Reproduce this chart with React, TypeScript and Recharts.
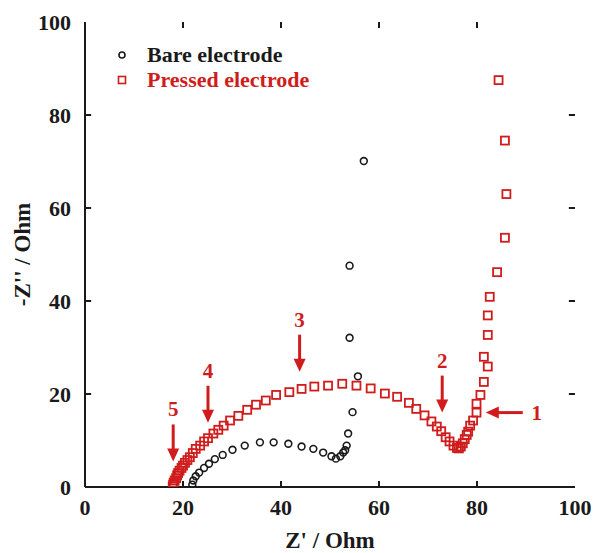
import { ScatterChart, Scatter, XAxis, YAxis, Legend, ReferenceLine } from "recharts";

// Nyquist plots, Z' (real) vs -Z'' (imaginary), both in Ohm.
const bareZr = [
  21.9, 22.1, 22.6, 23.3, 24.3, 25.3, 26.5, 28.1, 30.1, 32.6, 35.7, 38.5, 41.5, 44.2,
  46.6, 48.6, 50.3, 51.2, 52.1, 52.7, 53.1, 53.4, 53.7, 54.6, 55.7, 54.0, 54.0, 56.9,
];
const bareZi = [
  0.5, 1.4, 2.3, 3.1, 4.1, 5.0, 6.0, 6.9, 8.0, 8.9, 9.6, 9.6, 9.3, 8.7,
  8.2, 7.4, 6.6, 6.1, 6.6, 7.4, 7.9, 8.9, 11.5, 16.1, 23.8, 32.1, 47.6, 70.1,
];

const pressedZr = [
  17.9, 18.0, 18.1, 18.3, 18.6, 18.8, 19.0, 19.3, 19.7, 20.0, 20.4, 20.9, 21.4, 22.0,
  22.6, 23.5, 24.3, 25.1, 26.2, 27.2, 28.3, 29.6, 31.3, 33.1, 34.9, 36.9, 39.0, 41.7,
  44.2, 46.8, 49.6, 52.5, 55.4, 58.3, 61.2, 63.7, 66.1, 67.6, 69.3, 70.7, 71.8, 72.7,
  73.6, 74.4, 75.2, 75.9, 76.3, 76.7, 77.1, 77.5, 77.9, 78.2, 78.6, 79.2, 79.9, 79.9,
  80.7, 81.4, 82.2, 81.4, 82.2, 82.2, 82.6, 84.1, 85.7, 86.0, 85.7, 84.4,
];
const pressedZi = [
  0.1, 0.5, 0.9, 1.4, 1.9, 2.5, 3.0, 3.5, 4.1, 4.6, 5.2, 5.8, 6.4, 7.3,
  8.2, 8.9, 9.8, 10.5, 11.5, 12.3, 13.2, 14.3, 15.3, 16.6, 17.7, 18.6, 19.8, 20.4,
  21.1, 21.6, 21.8, 22.2, 21.8, 21.2, 20.1, 19.4, 18.1, 16.8, 15.4, 14.1, 13.0, 12.0,
  10.7, 9.8, 8.9, 8.4, 8.3, 8.7, 9.4, 10.3, 11.2, 11.9, 13.2, 14.3, 16.0, 17.9,
  19.8, 22.6, 25.9, 28.0, 32.7, 36.9, 40.9, 46.2, 53.6, 63.0, 74.5, 87.5,
];

// numbered arrows pointing at frequencies on the pressed curve (tip position)
const markerLabels = ["1", "2", "3", "4", "5"];
const markerZr = [81.8, 72.9, 43.8, 25.1, 18.0];
const markerZi = [16.0, 16.0, 24.8, 13.8, 5.5];
const markerDir = ["left", "down", "down", "down", "down"];

const axisTicks = [0, 20, 40, 60, 80, 100];
const innerTicks = [20, 40, 60, 80];

const RED = "#d01c1c";
const INK = "#1a1a1a";
const FONT = '"Liberation Serif", "Times New Roman", serif';
// inward tick length, in axis units (about 6px on either axis)
const TICK_X = 1.25;
const TICK_Y = 1.3;

const toPoints = (zr: number[], zi: number[]) => zr.map((x, i) => ({ x, y: zi[i] }));

const bare = toPoints(bareZr, bareZi);
const pressed = toPoints(pressedZr, pressedZi);
const markers = markerLabels.map((label, i) => ({
  x: markerZr[i],
  y: markerZi[i],
  label,
  dir: markerDir[i],
}));

// short tick segments pointing into the frame on all four sides
const frameTicks = innerTicks.flatMap((v) => [
  [{ x: v, y: 0 }, { x: v, y: TICK_Y }],
  [{ x: v, y: 100 }, { x: v, y: 100 - TICK_Y }],
  [{ x: 0, y: v }, { x: TICK_X, y: v }],
  [{ x: 100, y: v }, { x: 100 - TICK_X, y: v }],
]);

const tickStyle = { fontFamily: FONT, fontWeight: 700, fontSize: 22, fill: INK };

function Ring(props: any) {
  return <circle cx={props.cx} cy={props.cy} r={3.4} fill="none" stroke={INK} strokeWidth={1.6} />;
}

function Square(props: any) {
  return (
    <rect x={props.cx - 4} y={props.cy - 4} width={8} height={8} fill="none" stroke={RED} strokeWidth={1.8} />
  );
}

function Arrow(props: any) {
  const { cx, cy, payload } = props;
  const textProps = {
    fill: RED,
    fontFamily: FONT,
    fontWeight: 700,
    fontSize: 21,
    textAnchor: "middle" as const,
    dominantBaseline: "central" as const,
  };
  if (payload.dir === "left") {
    return (
      <g>
        <line x1={cx + 10} y1={cy} x2={cx + 37} y2={cy} stroke={RED} strokeWidth={3} />
        <polygon points={`${cx},${cy} ${cx + 13},${cy - 6} ${cx + 13},${cy + 6}`} fill={RED} />
        <text x={cx + 51} y={cy} {...textProps}>
          {payload.label}
        </text>
      </g>
    );
  }
  return (
    <g>
      <line x1={cx} y1={cy - 37} x2={cx} y2={cy - 10} stroke={RED} strokeWidth={3} />
      <polygon points={`${cx},${cy} ${cx - 6},${cy - 13} ${cx + 6},${cy - 13}`} fill={RED} />
      <text x={cx} y={cy - 52} {...textProps}>
        {payload.label}
      </text>
    </g>
  );
}

function XTitle(props: any) {
  const vb = props.viewBox ?? { x: 85, y: 487, width: 490, height: 66 };
  return (
    <text
      x={vb.x + vb.width / 2}
      y={vb.y + 53}
      textAnchor="middle"
      dominantBaseline="central"
      fontFamily={FONT}
      fontWeight={700}
      fontSize={23}
      fill={INK}
    >
      Z' / Ohm
    </text>
  );
}

function YTitle(props: any) {
  const vb = props.viewBox ?? { x: 0, y: 22, width: 85, height: 465 };
  const cx = vb.x + 22;
  const cy = vb.y + vb.height / 2;
  return (
    <text
      x={cx}
      y={cy}
      transform={`rotate(-90 ${cx} ${cy})`}
      textAnchor="middle"
      dominantBaseline="central"
      fontFamily={FONT}
      fontWeight={700}
      fontSize={23}
      fill={INK}
    >
      -Z'' / Ohm
    </text>
  );
}

function LegendBox() {
  const row = { display: "flex", alignItems: "center", height: 25 };
  const text = { fontFamily: FONT, fontWeight: 700, fontSize: 22, marginLeft: 15, whiteSpace: "nowrap" as const };
  return (
    <div>
      <div style={row}>
        <svg width={20} height={20}>
          <circle cx={10} cy={10} r={3} fill="none" stroke={INK} strokeWidth={1.6} />
        </svg>
        <span style={{ ...text, color: INK }}>Bare electrode</span>
      </div>
      <div style={row}>
        <svg width={20} height={20}>
          <rect x={6.5} y={6.5} width={7} height={7} fill="none" stroke={RED} strokeWidth={1.6} />
        </svg>
        <span style={{ ...text, color: RED }}>Pressed electrode</span>
      </div>
    </div>
  );
}

export default function App() {
  return (
    <div style={{ position: "absolute", left: 0, top: 0 }}>
      <ScatterChart width={599} height={553} margin={{ top: 22, right: 24, bottom: 0, left: 0 }}>
        <XAxis
          xAxisId="main"
          type="number"
          dataKey="x"
          domain={[0, 100]}
          ticks={axisTicks}
          allowDataOverflow
          height={66}
          tickLine={false}
          tickSize={0}
          tickMargin={12}
          tick={tickStyle}
          stroke={INK}
          strokeWidth={2}
          label={<XTitle />}
        />
        <XAxis
          xAxisId="top"
          orientation="top"
          type="number"
          domain={[0, 100]}
          ticks={axisTicks}
          allowDataOverflow
          height={0}
          tick={false}
          tickLine={false}
          stroke={INK}
          strokeWidth={2}
        />
        <YAxis
          yAxisId="main"
          type="number"
          dataKey="y"
          domain={[0, 100]}
          ticks={axisTicks}
          allowDataOverflow
          width={85}
          tickLine={false}
          tickSize={0}
          tickMargin={14}
          tick={tickStyle}
          stroke={INK}
          strokeWidth={2}
          label={<YTitle />}
        />
        <YAxis
          yAxisId="right"
          orientation="right"
          type="number"
          domain={[0, 100]}
          ticks={axisTicks}
          allowDataOverflow
          width={0}
          tick={false}
          tickLine={false}
          stroke={INK}
          strokeWidth={2}
        />
        {frameTicks.map((seg, i) => (
          <ReferenceLine
            key={i}
            xAxisId="main"
            yAxisId="main"
            segment={seg}
            stroke={INK}
            strokeWidth={2}
            ifOverflow="visible"
          />
        ))}
        <Legend
          verticalAlign="middle"
          align="center"
          content={() => <LegendBox />}
          wrapperStyle={{ left: 112, top: 42, width: "auto", height: "auto" }}
        />
        <Scatter
          name="Bare electrode"
          data={bare}
          xAxisId="main"
          yAxisId="main"
          shape={<Ring />}
          isAnimationActive={false}
        />
        <Scatter
          name="Pressed electrode"
          data={pressed}
          xAxisId="main"
          yAxisId="main"
          shape={<Square />}
          isAnimationActive={false}
        />
        <Scatter
          name="markers"
          data={markers}
          xAxisId="main"
          yAxisId="main"
          shape={<Arrow />}
          legendType="none"
          isAnimationActive={false}
        />
      </ScatterChart>
    </div>
  );
}
